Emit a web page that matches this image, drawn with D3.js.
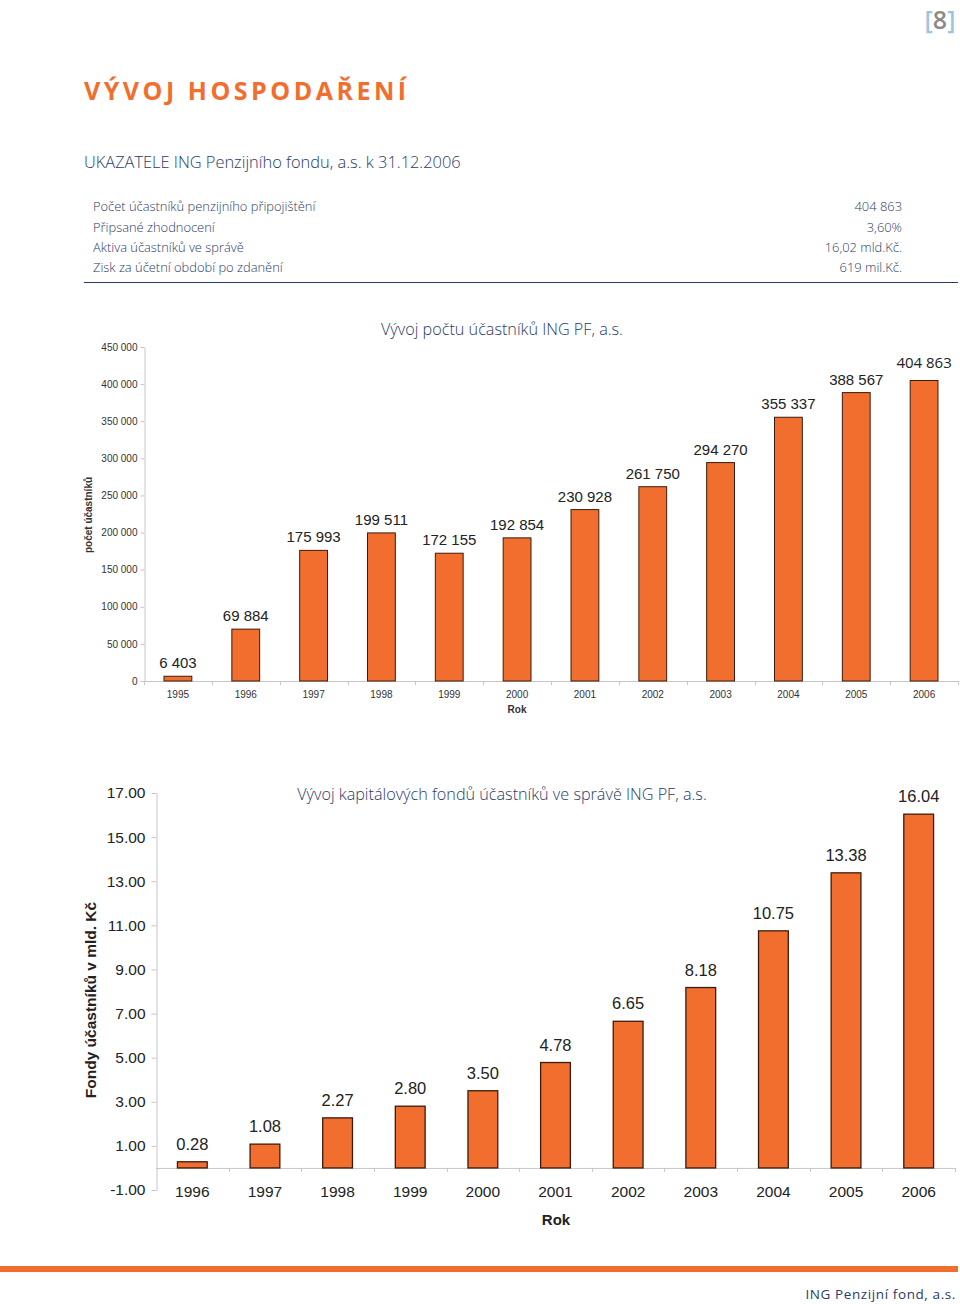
<!DOCTYPE html>
<html>
<head>
<meta charset="utf-8">
<script src="https://cdn.jsdelivr.net/npm/d3@7"></script>
<style>
  html, body { margin: 0; padding: 0; background: #fff; }
  svg { display: block; }
</style>
</head>
<body>
<script>
// ---------- DATA ----------
const summaryLabels = ["Počet účastníků penzijního připojištění", "Připsané zhodnocení", "Aktiva účastníků ve správě", "Zisk za účetní období po zdanění"];
const summaryValues = ["404 863", "3,60%", "16,02 mld.Kč.", "619 mil.Kč."];

const years1 = ["1995","1996","1997","1998","1999","2000","2001","2002","2003","2004","2005","2006"];
const participants = [6403, 69884, 175993, 199511, 172155, 192854, 230928, 261750, 294270, 355337, 388567, 404863];
const yTicks1 = [0, 50000, 100000, 150000, 200000, 250000, 300000, 350000, 400000, 450000];

const years2 = ["1996","1997","1998","1999","2000","2001","2002","2003","2004","2005","2006"];
const funds = [0.28, 1.08, 2.27, 2.80, 3.50, 4.78, 6.65, 8.18, 10.75, 13.38, 16.04];
const yTicks2 = [-1, 1, 3, 5, 7, 9, 11, 13, 15, 17];

// ---------- STYLE ----------
const ORANGE = "#F26E2E";
const NAVY = "#2b3a67";
const BAR_STROKE = "#3a1c0c";
const AXIS = "#c6c6c6";
const ARIAL = "'Liberation Sans', Arial, sans-serif";
const HUM = "'Open Sans', 'Noto Sans', sans-serif";

const svg = d3.select("body").append("svg").attr("width", 960).attr("height", 1304);

// page number
const pn = svg.append("text").attr("x", 940).attr("y", 29).attr("text-anchor", "middle")
  .attr("font-family", HUM).attr("font-weight", 600).attr("font-size", 25);
pn.append("tspan").attr("fill", "#9ec3e6").text("[");
pn.append("tspan").attr("fill", "#8a8a8a").text("8");
pn.append("tspan").attr("fill", "#9ec3e6").text("]");

// title
svg.append("text").attr("x", 84).attr("y", 100)
  .attr("font-family", HUM).attr("font-weight", 700).attr("font-size", 25)
  .attr("letter-spacing", 3.5).attr("fill", ORANGE).text("VÝVOJ HOSPODAŘENÍ");

svg.append("text").attr("x", 84).attr("y", 168)
  .attr("font-family", HUM).attr("font-weight", 300).attr("font-size", 16.4)
  .attr("fill", NAVY).text("UKAZATELE ING Penzijního fondu, a.s. k 31.12.2006");

const rowY = [211, 232, 252, 272];
summaryLabels.forEach((l, i) => {
  svg.append("text").attr("x", 93).attr("y", rowY[i])
    .attr("font-family", HUM).attr("font-weight", 300).attr("font-size", 12.9)
    .attr("fill", NAVY).text(l);
  svg.append("text").attr("x", 902).attr("y", rowY[i]).attr("text-anchor", "end")
    .attr("font-family", HUM).attr("font-weight", 300).attr("font-size", 12.9)
    .attr("fill", NAVY).text(summaryValues[i]);
});
svg.append("line").attr("x1", 84).attr("x2", 958).attr("y1", 282.5).attr("y2", 282.5)
  .attr("stroke", NAVY).attr("stroke-width", 1.2);

const fmtSpace = v => d3.format(",")(v).replace(/,/g, " ");
const fmt2 = v => d3.format(".2f")(v).replace("\u2212", "-");

// ---------- CHART 1 ----------
{
  const x = d3.scaleBand().domain(years1).range([144, 958]).paddingInner(0.59).paddingOuter(0.295);
  const y = d3.scaleLinear().domain([0, 450000]).range([681, 347]);
  const g = svg.append("g");

  g.append("text").attr("x", 502).attr("y", 335).attr("text-anchor", "middle")
    .attr("font-family", HUM).attr("font-weight", 300).attr("font-size", 16.2).attr("fill", NAVY)
    .text("Vývoj počtu účastníků ING PF, a.s.");

  const yAxis = d3.axisLeft(y).tickValues(yTicks1).tickSize(4).tickSizeOuter(0).tickPadding(3)
    .tickFormat(fmtSpace);
  const ya = g.append("g").attr("transform", "translate(144.5,0)").call(yAxis);
  ya.select(".domain").attr("stroke", AXIS);
  ya.selectAll(".tick line").attr("stroke", AXIS);
  ya.selectAll(".tick text").attr("font-family", ARIAL).attr("font-size", 10).attr("fill", "#333");

  const xa = g.append("g");
  xa.append("line").attr("x1", 144).attr("x2", 958).attr("y1", y(0) + 0.5).attr("y2", y(0) + 0.5).attr("stroke", AXIS);
  const bounds = years1.map(d => x(d) - x.step() * x.paddingInner() / 2).concat([958]);
  xa.selectAll(".xt").data(bounds).join("line")
    .attr("x1", d => Math.round(d) + 0.5).attr("x2", d => Math.round(d) + 0.5)
    .attr("y1", y(0)).attr("y2", y(0) + 4).attr("stroke", AXIS);
  xa.selectAll(".xl").data(years1).join("text")
    .attr("x", d => x(d) + x.bandwidth() / 2).attr("y", 698).attr("text-anchor", "middle")
    .attr("font-family", ARIAL).attr("font-size", 10).attr("fill", "#333").text(d => d);
  g.append("text").attr("x", 517).attr("y", 713).attr("text-anchor", "middle")
    .attr("font-family", ARIAL).attr("font-weight", 700).attr("font-size", 10).attr("fill", "#333").text("Rok");

  g.append("text").attr("transform", "translate(92,515) rotate(-90)").attr("text-anchor", "middle")
    .attr("font-family", ARIAL).attr("font-weight", 700).attr("font-size", 10).attr("fill", "#333")
    .text("počet účastníků");

  g.selectAll(".bar").data(years1).join("rect")
    .attr("x", d => x(d)).attr("width", x.bandwidth())
    .attr("y", (d, i) => y(participants[i])).attr("height", (d, i) => y(0) - y(participants[i]))
    .attr("fill", ORANGE).attr("stroke", BAR_STROKE).attr("stroke-width", 1);

  const last = years1.length - 1;
  g.selectAll(".val").data(years1).join("text")
    .attr("x", d => x(d) + x.bandwidth() / 2)
    .attr("y", (d, i) => y(participants[i]) - (i === last ? 13 : 8))
    .attr("text-anchor", "middle")
    .attr("font-family", (d, i) => i === last ? HUM : ARIAL)
    .attr("font-size", 15).attr("fill", "#222")
    .text((d, i) => fmtSpace(participants[i]));
}

// ---------- CHART 2 ----------
{
  const x = d3.scaleBand().domain(years2).range([156, 955]).paddingInner(0.59).paddingOuter(0.295);
  const y = d3.scaleLinear().domain([-1, 17]).range([1190, 793]);
  const g = svg.append("g");

  g.append("text").attr("x", 502).attr("y", 800).attr("text-anchor", "middle")
    .attr("font-family", HUM).attr("font-weight", 300).attr("font-size", 16.2).attr("fill", NAVY)
    .text("Vývoj kapitálových fondů účastníků ve správě ING PF, a.s.");

  const yAxis = d3.axisLeft(y).tickValues(yTicks2).tickSize(5).tickSizeOuter(0).tickPadding(6)
    .tickFormat(fmt2);
  const ya = g.append("g").attr("transform", "translate(156.5,0)").call(yAxis);
  ya.select(".domain").attr("stroke", AXIS);
  ya.selectAll(".tick line").attr("stroke", AXIS);
  ya.selectAll(".tick text").attr("font-family", ARIAL).attr("font-size", 15.5).attr("fill", "#222");

  const xa = g.append("g");
  xa.append("line").attr("x1", 156).attr("x2", 955).attr("y1", y(0) + 0.5).attr("y2", y(0) + 0.5).attr("stroke", AXIS);
  const bounds = years2.map(d => x(d) - x.step() * x.paddingInner() / 2).concat([955]);
  xa.selectAll(".xt").data(bounds.slice(1)).join("line")
    .attr("x1", d => Math.round(d) + 0.5).attr("x2", d => Math.round(d) + 0.5)
    .attr("y1", y(0)).attr("y2", y(0) + 4).attr("stroke", AXIS);
  xa.selectAll(".xl").data(years2).join("text")
    .attr("x", d => x(d) + x.bandwidth() / 2).attr("y", 1197).attr("text-anchor", "middle")
    .attr("font-family", ARIAL).attr("font-size", 15.5).attr("fill", "#222").text(d => d);
  g.append("text").attr("x", 556).attr("y", 1225).attr("text-anchor", "middle")
    .attr("font-family", ARIAL).attr("font-weight", 700).attr("font-size", 15).attr("fill", "#222").text("Rok");

  g.append("text").attr("transform", "translate(96,1000) rotate(-90)").attr("text-anchor", "middle")
    .attr("font-family", ARIAL).attr("font-weight", 700).attr("font-size", 15.5).attr("fill", "#222")
    .text("Fondy účastníků v mld. Kč");

  g.selectAll(".bar").data(years2).join("rect")
    .attr("x", d => x(d)).attr("width", x.bandwidth())
    .attr("y", (d, i) => y(funds[i])).attr("height", (d, i) => y(0) - y(funds[i]))
    .attr("fill", ORANGE).attr("stroke", BAR_STROKE).attr("stroke-width", 1.3);

  g.selectAll(".val").data(years2).join("text")
    .attr("x", d => x(d) + x.bandwidth() / 2).attr("y", (d, i) => y(funds[i]) - 12)
    .attr("text-anchor", "middle").attr("font-family", ARIAL).attr("font-size", 16.5).attr("fill", "#222")
    .text((d, i) => fmt2(funds[i]));
}

// footer
svg.append("rect").attr("x", 0).attr("y", 1266).attr("width", 958).attr("height", 6).attr("fill", ORANGE);
svg.append("text").attr("x", 956).attr("y", 1299).attr("text-anchor", "end")
  .attr("font-family", HUM).attr("font-size", 13.5).attr("letter-spacing", 0.6).attr("fill", NAVY)
  .text("ING Penzijní fond, a.s.");
</script>
</body>
</html>
